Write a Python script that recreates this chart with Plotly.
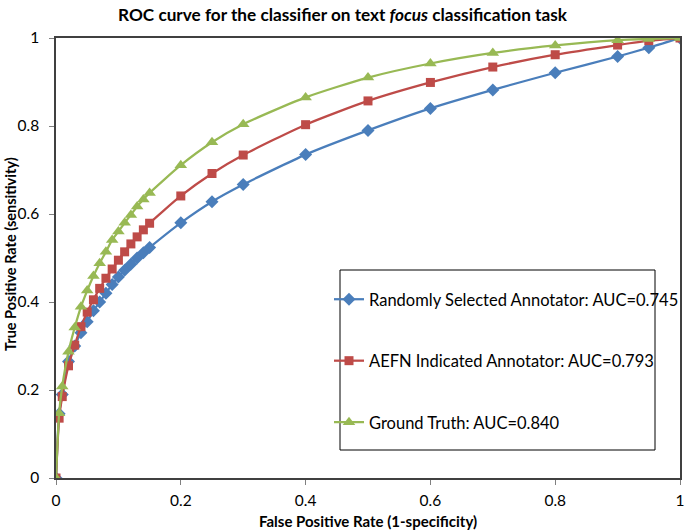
import plotly.graph_objects as go

fpr = [0, 0.005, 0.01, 0.02, 0.03, 0.04, 0.05, 0.06, 0.07, 0.08, 0.09, 0.10,
       0.11, 0.12, 0.13, 0.14, 0.15, 0.2, 0.25, 0.3, 0.4, 0.5, 0.6, 0.7,
       0.8, 0.9, 0.95, 1.0]

tpr_random = [0, 0.146, 0.19, 0.265, 0.30, 0.33, 0.355, 0.38, 0.40, 0.42,
              0.44, 0.457, 0.472, 0.486, 0.50, 0.512, 0.524, 0.58, 0.628,
              0.667, 0.735, 0.79, 0.84, 0.882, 0.921, 0.958, 0.978, 1.0]
tpr_aefn = [0, 0.136, 0.185, 0.255, 0.302, 0.344, 0.377, 0.405, 0.431, 0.454,
            0.475, 0.495, 0.514, 0.532, 0.548, 0.564, 0.579, 0.641, 0.692,
            0.734, 0.803, 0.857, 0.899, 0.934, 0.962, 0.984, 0.994, 1.0]
tpr_truth = [0, 0.147, 0.208, 0.287, 0.342, 0.389, 0.426, 0.459, 0.488, 0.514,
             0.541, 0.56, 0.58, 0.598, 0.617, 0.633, 0.648, 0.711, 0.763,
             0.804, 0.865, 0.91, 0.942, 0.966, 0.983, 0.995, 0.998, 1.0]

names = ["Randomly Selected Annotator: AUC=0.745",
         "AEFN Indicated Annotator: AUC=0.793",
         "Ground Truth: AUC=0.840"]
tick_vals = [0, 0.2, 0.4, 0.6, 0.8, 1]
tick_text = ["0", "0.2", "0.4", "0.6", "0.8", "1"]

series = [
    (tpr_random, names[0], "#4A7EBB", "diamond", 10),
    (tpr_aefn, names[1], "#BE4B48", "square", 9),
    (tpr_truth, names[2], "#98B954", "triangle-up", 11),
]

W, H = 685, 532
L, R, T, B = 56, 5, 38, 54
PW, PH = W - L - R, H - T - B

def px_x(px):
    return (px - L) / PW

def px_y(py):
    return (H - B - py) / PH

fig = go.Figure()
for i, (vals, name, color, sym, size) in enumerate(series):
    fig.add_trace(go.Scatter(
        x=fpr, y=vals, name=name, mode="lines+markers",
        line=dict(color=color, width=2.25, shape="spline", smoothing=0.6),
        marker=dict(symbol=sym, size=size, color=color),
        legendgroup=f"g{i}",
    ))

font_family = "Lato, Open Sans, sans-serif"
fig.update_layout(
    width=W, height=H,
    margin=dict(l=L, r=R, t=T, b=B, autoexpand=False),
    paper_bgcolor="white", plot_bgcolor="white",
    font=dict(family=font_family, color="#000000", size=15),
    title=dict(
        text="<b>ROC curve for the classifier on text <i>focus</i> classification task</b>",
        x=0.5, xanchor="center", y=1 - 15 / H, yanchor="middle",
        font=dict(size=17.2, family=font_family),
    ),
    showlegend=True,
    legend=dict(
        x=px_x(329), y=px_y(282), xanchor="left", yanchor="top",
        borderwidth=0, bgcolor="rgba(0,0,0,0)",
        font=dict(size=16.5, family=font_family),
        traceorder="grouped", tracegroupgap=37,
        itemwidth=30,
    ),
    shapes=[dict(
        type="rect", xref="paper", yref="paper",
        x0=px_x(340), x1=px_x(655), y0=px_y(450), y1=px_y(270),
        line=dict(color="#000000", width=1), fillcolor="rgba(0,0,0,0)",
        layer="below",
    )],
    annotations=[
        dict(text="<b>False Positive Rate (1-specificity)</b>",
             xref="paper", yref="paper", x=0.5, y=px_y(521),
             xanchor="center", yanchor="middle", showarrow=False,
             font=dict(size=15, family=font_family)),
        dict(text="<b>True Positive Rate (sensitivity)</b>",
             xref="paper", yref="paper", x=px_x(10), y=px_y(254),
             xanchor="center", yanchor="middle", showarrow=False,
             textangle=-90, font=dict(size=14.5, family=font_family)),
    ],
)
fig.update_xaxes(
    range=[0, 1], tickvals=tick_vals, ticktext=tick_text,
    showgrid=False, zeroline=False, automargin=False,
    showline=True, linecolor="#404040", linewidth=1.5, mirror=True,
    ticks="outside", ticklen=5, tickcolor="#808080",
    tickfont=dict(size=15.5), ticklabelstandoff=3,
)
fig.update_yaxes(
    range=[0, 1], tickvals=tick_vals, ticktext=tick_text,
    showgrid=False, zeroline=False, automargin=False,
    showline=True, linecolor="#404040", linewidth=1.5, mirror=True,
    ticks="outside", ticklen=5, tickcolor="#808080",
    tickfont=dict(size=15.5), ticklabelstandoff=7,
)

fig.write_html(
    "out.html",
    config={"displayModeBar": False},
    post_script="document.body.style.margin='0';document.body.style.padding='0';",
)
